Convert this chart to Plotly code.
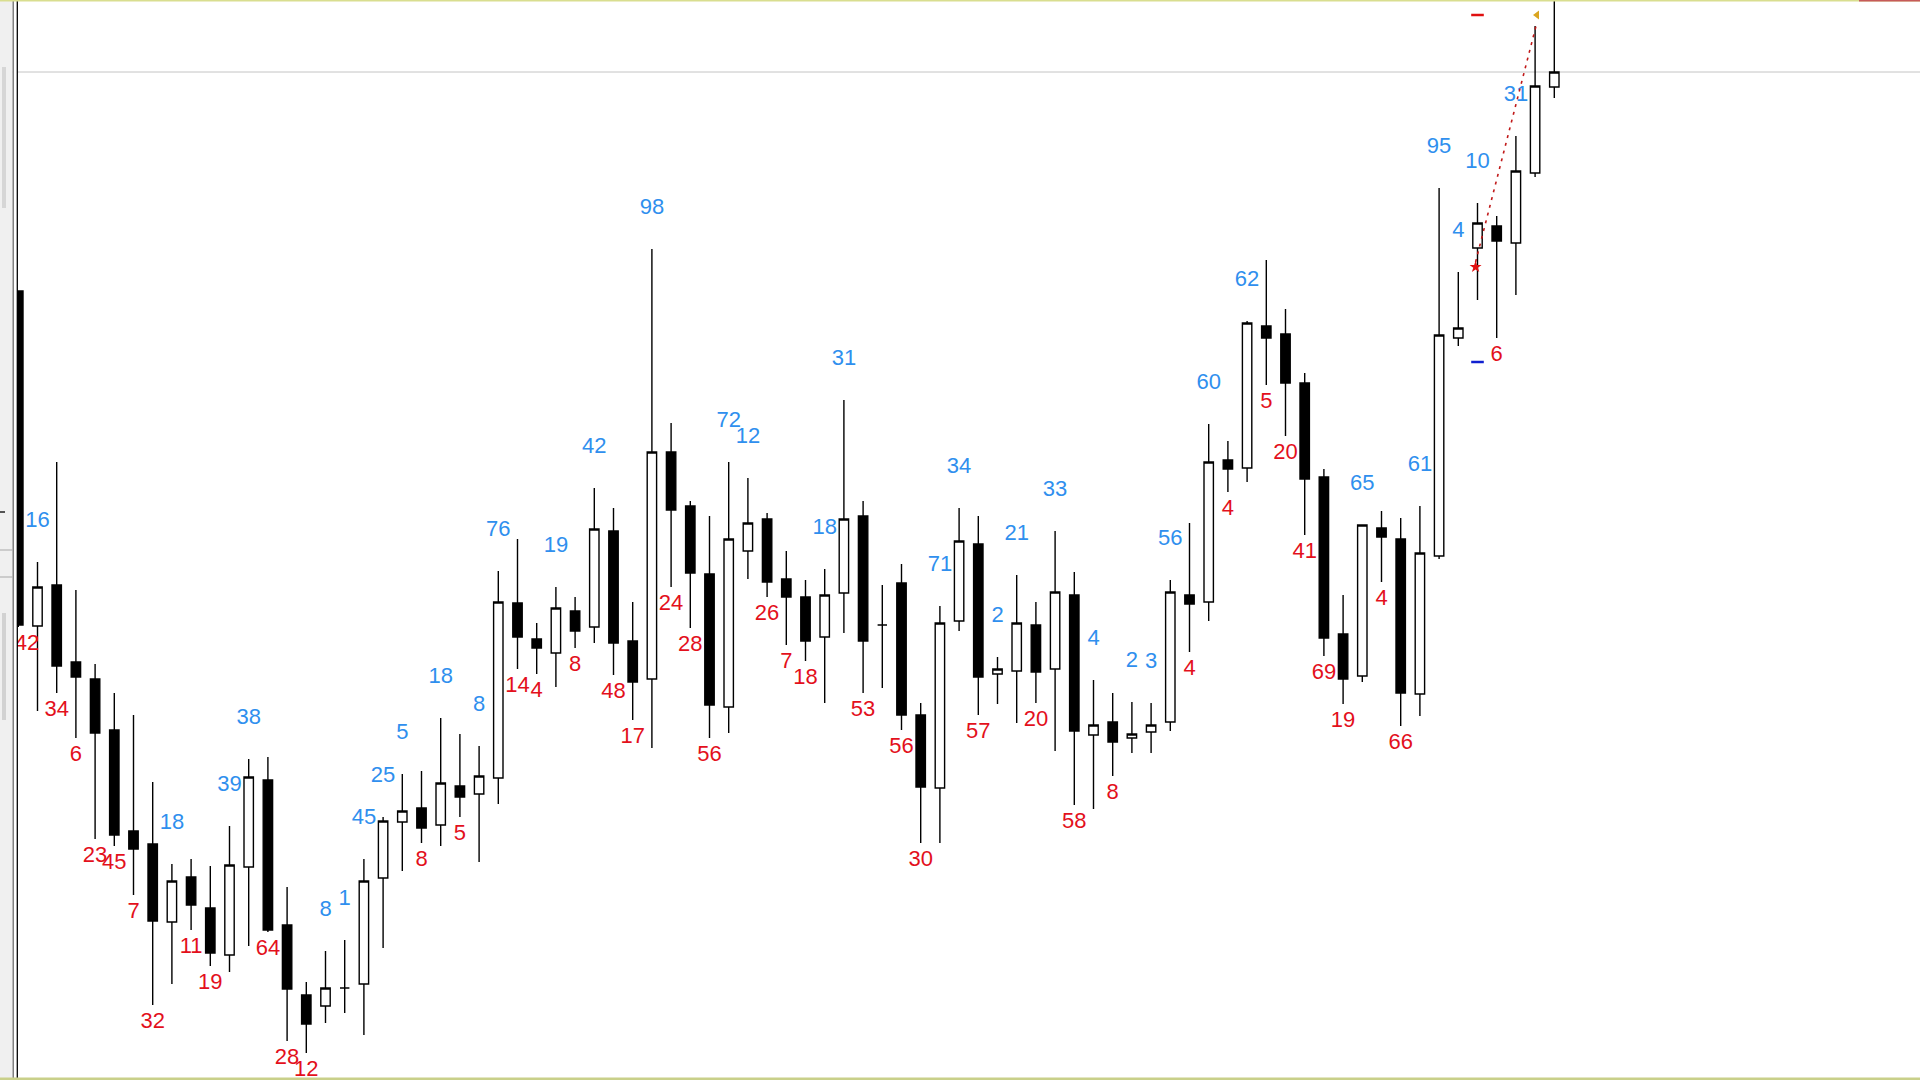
import plotly.graph_objects as go

# ---------------- data (price units, arbitrary scale) ----------------
open_ = [789, 454, 495, 418, 401, 350, 249, 236, 158, 203, 172, 125, 213, 300, 155, 85, 74, 92, 96, 202,
         258, 272, 255, 294, 286, 302, 477, 441, 427, 469, 453, 549, 439, 401, 628, 574, 506, 373, 529, 561,
         501, 483, 443, 487, 564, 455, 497, 365, 292, 459, 536, 406, 409, 455, 411, 485, 345, 358, 342, 348,
         358, 485, 478, 620, 612, 754, 746, 697, 603, 446, 404, 552, 541, 386, 524, 742, 832, 854, 837, 907,
         993]
high = [789, 518, 618, 490, 416, 387, 365, 298, 216, 221, 214, 254, 321, 323, 193, 98, 129, 140, 221, 263,
        306, 309, 362, 346, 334, 509, 541, 457, 493, 483, 592, 572, 478, 831, 657, 579, 564, 618, 602, 567,
        529, 500, 511, 680, 579, 495, 516, 377, 474, 572, 564, 423, 505, 478, 549, 508, 400, 387, 378, 377,
        500, 557, 656, 639, 759, 820, 771, 707, 611, 485, 555, 569, 562, 574, 892, 808, 877, 864, 944, 1054,
        1080]
low = [453, 369, 387, 342, 241, 234, 185, 75, 96, 150, 114, 108, 134, 148, 39, 27, 57, 67, 45, 132,
       209, 237, 234, 263, 218, 276, 411, 406, 393, 432, 437, 405, 360, 332, 493, 452, 342, 347, 501, 483,
       435, 419, 377, 447, 387, 392, 350, 237, 237, 449, 365, 376, 357, 377, 329, 275, 271, 304, 327, 327,
       349, 428, 459, 588, 598, 695, 644, 545, 424, 376, 398, 498, 354, 364, 521, 734, 780, 742, 785, 903,
       982]
close = [455, 493, 414, 403, 347, 245, 231, 159, 199, 175, 127, 215, 303, 150, 91, 56, 92, 92, 199, 259,
         269, 252, 297, 283, 304, 478, 443, 432, 472, 449, 551, 437, 398, 628, 570, 507, 375, 541, 557, 498,
         483, 439, 485, 561, 439, 455, 365, 293, 457, 539, 403, 411, 457, 408, 488, 349, 355, 338, 346, 355,
         488, 476, 618, 611, 757, 742, 697, 601, 442, 401, 555, 543, 387, 527, 745, 752, 857, 839, 909, 994,
         1008]

# swing labels above highs (blue) and below lows (red)
up_idx = [1, 8, 11, 12, 16, 17, 18, 19, 20, 22, 24, 25, 28, 30, 33, 37, 38, 42, 43, 48, 49, 51, 52, 54,
          56, 58, 59, 60, 62, 64, 70, 73, 74, 75, 76, 78]
up_val = ["16", "18", "39", "38", "8", "1", "45", "25", "5", "18", "8", "76", "19", "42", "98", "72", "12",
          "18", "31", "71", "34", "2", "21", "33", "4", "2", "3", "56", "60", "62", "65", "61", "95", "4",
          "10", "31"]
dn_idx = [0, 2, 3, 4, 5, 6, 7, 9, 10, 13, 14, 15, 21, 23, 26, 27, 29, 31, 32, 34, 35, 36, 39, 40, 41, 44,
          46, 47, 50, 53, 55, 57, 61, 63, 65, 66, 67, 68, 69, 71, 72, 77]
dn_val = ["42", "34", "6", "23", "45", "7", "32", "11", "19", "64", "28", "12", "8", "5", "14", "4", "8",
          "48", "17", "24", "28", "56", "26", "7", "18", "53", "56", "30", "57", "20", "58", "8", "4", "4",
          "5", "20", "41", "69", "19", "4", "66", "6"]

# trade objects
trade_x = [75.9, 79.1]
trade_price = [818, 1058]
entry_x = [75.9]
entry_price = [813]
exit_x = [79.1]
exit_price = [1065]
tp_x = [76.0]
tp_price = [1065]
sl_x = [76.0]
sl_price = [718]

# ---------------- figure ----------------
W, H = 1920, 1080
X0_PIX, STEP = 18.3, 19.2
idx = list(range(len(open_)))

fig = go.Figure()

fig.add_trace(go.Candlestick(
    x=idx, open=open_, high=high, low=low, close=close,
    increasing=dict(line=dict(color="black", width=1.4), fillcolor="white"),
    decreasing=dict(line=dict(color="black", width=1.4), fillcolor="black"),
    whiskerwidth=0, showlegend=False, hoverinfo="skip",
))

BLUE = "#2f8fee"
RED = "#e3101c"
FONT = "Liberation Sans Narrow, Arial Narrow, Liberation Sans, Arial, sans-serif"
FSIZE = 22

up_x = list(up_idx)
up_y = [high[i] + 41 for i in up_idx]
dn_x = [i + (0.45 if i == 0 else 0) for i in dn_idx]
dn_y = [low[i] - 17 for i in dn_idx]

fig.add_trace(go.Scatter(x=up_x, y=up_y, text=up_val, mode="text", textposition="middle center",
                         textfont=dict(color=BLUE, size=FSIZE, family=FONT), showlegend=False,
                         hoverinfo="skip"))
fig.add_trace(go.Scatter(x=dn_x, y=dn_y, text=dn_val, mode="text", textposition="middle center",
                         textfont=dict(color=RED, size=FSIZE, family=FONT), showlegend=False,
                         hoverinfo="skip"))

# trade line and markers
fig.add_trace(go.Scatter(x=trade_x, y=trade_price, mode="lines",
                         line=dict(color="#c01818", width=1.6, dash="3px,5px"),
                         showlegend=False, hoverinfo="skip"))
fig.add_trace(go.Scatter(x=entry_x, y=entry_price, mode="markers",
                         marker=dict(symbol="star", size=9, color="#e01010"),
                         showlegend=False, hoverinfo="skip"))
fig.add_trace(go.Scatter(x=exit_x, y=exit_price, mode="markers",
                         marker=dict(symbol="triangle-left", size=8, color="#daa520"),
                         showlegend=False, hoverinfo="skip"))
fig.add_trace(go.Scatter(x=tp_x, y=tp_price, mode="markers",
                         marker=dict(symbol="line-ew", size=9, line=dict(color="#e01010", width=2.5)),
                         showlegend=False, hoverinfo="skip"))
fig.add_trace(go.Scatter(x=sl_x, y=sl_price, mode="markers",
                         marker=dict(symbol="line-ew", size=9, line=dict(color="#1020d0", width=2.5)),
                         showlegend=False, hoverinfo="skip"))

x_lo = -X0_PIX / STEP
x_hi = (W - X0_PIX) / STEP


def px(v):
    return v / W


def py(v):
    return 1 - v / H


shapes = [
    # bid line at last close
    dict(type="line", xref="x", yref="y", x0=x_lo, x1=x_hi, y0=close[-1], y1=close[-1],
         line=dict(color="#c4c4c4", width=1), layer="below"),
    # left panel
    dict(type="rect", xref="paper", yref="paper", x0=0, x1=px(12.5), y0=0, y1=1,
         fillcolor="#f0f0f0", line=dict(width=0), layer="above"),
    dict(type="rect", xref="paper", yref="paper", x0=px(12.5), x1=px(17), y0=0, y1=1,
         fillcolor="white", line=dict(width=0), layer="above"),
    dict(type="line", xref="paper", yref="paper", x0=px(13.2), x1=px(13.2), y0=0, y1=1,
         line=dict(color="#6a6a6a", width=1.3), layer="above"),
    dict(type="line", xref="paper", yref="paper", x0=px(17.3), x1=px(17.3), y0=0, y1=1,
         line=dict(color="black", width=1.3), layer="above"),
    # scrollbar pieces
    dict(type="rect", xref="paper", yref="paper", x0=px(2), x1=px(6), y0=py(208), y1=py(67),
         fillcolor="#d6d6d6", line=dict(width=0), layer="above"),
    dict(type="rect", xref="paper", yref="paper", x0=px(2), x1=px(6), y0=py(720), y1=py(613),
         fillcolor="#d2d2d2", line=dict(width=0), layer="above"),
    dict(type="line", xref="paper", yref="paper", x0=0, x1=px(12.5), y0=py(550), y1=py(550),
         line=dict(color="#a8a8a8", width=1), layer="above"),
    dict(type="line", xref="paper", yref="paper", x0=0, x1=px(12.5), y0=py(577), y1=py(577),
         line=dict(color="#a8a8a8", width=1), layer="above"),
    dict(type="line", xref="paper", yref="paper", x0=0, x1=px(5), y0=py(512), y1=py(512),
         line=dict(color="#202020", width=1.5), layer="above"),
    # top / bottom frame
    dict(type="rect", xref="paper", yref="paper", x0=0, x1=1, y0=py(1.5), y1=1,
         fillcolor="#d9de8f", line=dict(width=0), layer="above"),
    dict(type="rect", xref="paper", yref="paper", x0=px(1859), x1=1, y0=py(1.5), y1=1,
         fillcolor="#c65a5a", line=dict(width=0), layer="above"),
    dict(type="rect", xref="paper", yref="paper", x0=0, x1=1, y0=0, y1=py(1077.5),
         fillcolor="#c9d08a", line=dict(width=0), layer="above"),
]

fig.update_layout(
    width=W, height=H,
    margin=dict(l=0, r=0, t=0, b=0, pad=0),
    paper_bgcolor="white", plot_bgcolor="white",
    showlegend=False,
    xaxis=dict(range=[x_lo, x_hi], visible=False, rangeslider=dict(visible=False), fixedrange=True),
    yaxis=dict(range=[0, H], visible=False, fixedrange=True),
    shapes=shapes,
)

fig.write_html("out.html")
